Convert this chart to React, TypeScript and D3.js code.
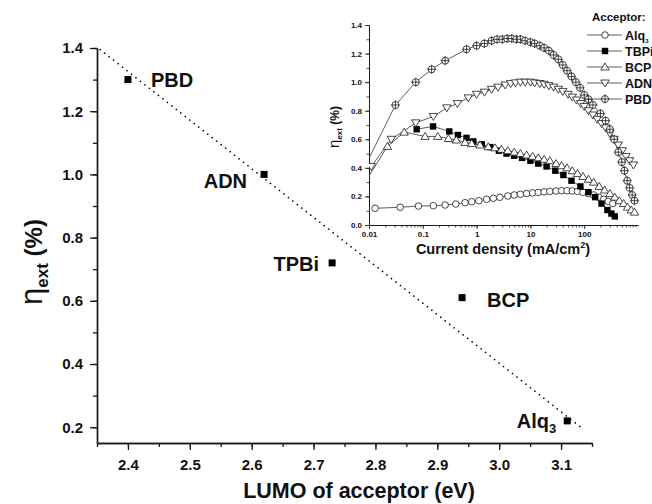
import React, { useEffect, useRef } from "react";
import * as d3 from "d3";

// main plot: external efficiency vs LUMO of the acceptor
const acceptors = ["PBD", "ADN", "TPBi", "BCP", "Alq3"];
const lumo = [2.4, 2.62, 2.73, 2.94, 3.11];
const etaExt = [1.3, 1.0, 0.72, 0.61, 0.22];
const fitLine: [number, number][] = [[2.355, 1.395], [3.135, 0.195]];
const xTickValues = [2.4, 2.5, 2.6, 2.7, 2.8, 2.9, 3.0, 3.1];
const yTickValues = [0.2, 0.4, 0.6, 0.8, 1.0, 1.2, 1.4];

// inset: efficiency vs current density (mA/cm2)
const insetXTicks = [0.01, 0.1, 1, 10, 100];
const insetYTicks = [0, 0.2, 0.4, 0.6, 0.8, 1.0, 1.2, 1.4];

const alq3Curve: [number, number][] = [
  [0.013, 0.117], [0.038, 0.124], [0.083, 0.133], [0.157, 0.135], [0.26, 0.14],
  [0.41, 0.147], [0.61, 0.156], [0.81, 0.163], [1.1, 0.17], [1.54, 0.18],
  [2.05, 0.187], [2.7, 0.194], [3.8, 0.203], [5, 0.21], [6.5, 0.215],
  [8.5, 0.22], [11, 0.225], [14, 0.228], [18, 0.232], [23, 0.235],
  [30, 0.238], [38, 0.24], [48, 0.24], [60, 0.238], [75, 0.235],
  [95, 0.228], [120, 0.22], [150, 0.21], [185, 0.195], [230, 0.18],
  [280, 0.165], [340, 0.15],
];
const tbpiCurve: [number, number][] = [
  [0.077, 0.67], [0.155, 0.69], [0.31, 0.655], [0.45, 0.63], [0.65, 0.61],
  [0.87, 0.585], [1.25, 0.565], [1.8, 0.545], [2.6, 0.52], [3.6, 0.5],
  [5, 0.485], [7, 0.47], [10, 0.45], [14, 0.43], [20, 0.41],
  [29, 0.38], [41, 0.35], [58, 0.31], [85, 0.27], [120, 0.23],
  [160, 0.195], [210, 0.15], [270, 0.105], [320, 0.08], [370, 0.06],
];
const bcpCurve: [number, number][] = [
  [0.0095, 0.33], [0.022, 0.55], [0.045, 0.65], [0.11, 0.62], [0.19, 0.62],
  [0.3, 0.605], [0.42, 0.595], [0.61, 0.578], [0.81, 0.57], [1.16, 0.56],
  [1.65, 0.548], [2.2, 0.54], [2.9, 0.53], [3.8, 0.52], [5, 0.51],
  [6.5, 0.5], [8.5, 0.49], [11, 0.48], [14, 0.47], [18, 0.46],
  [23, 0.45], [30, 0.43], [38, 0.415], [48, 0.4], [60, 0.38],
  [75, 0.36], [95, 0.34], [120, 0.32], [150, 0.3], [190, 0.27],
  [240, 0.245], [300, 0.22], [370, 0.195], [450, 0.17], [540, 0.15],
  [640, 0.125], [750, 0.105], [860, 0.09],
];
const adnCurve: [number, number][] = [
  [0.011, 0.41], [0.026, 0.6], [0.074, 0.715], [0.157, 0.76], [0.28, 0.82],
  [0.44, 0.85], [0.7, 0.89], [1.0, 0.915], [1.4, 0.93], [1.9, 0.95],
  [2.5, 0.965], [3.4, 0.98], [4.3, 0.99], [5.3, 0.995], [6.5, 1.0],
  [8, 1.0], [10, 1.0], [12, 0.995], [15, 0.99], [18, 0.985],
  [22, 0.975], [27, 0.965], [33, 0.95], [40, 0.935], [50, 0.915],
  [60, 0.895], [72, 0.875], [86, 0.85], [100, 0.83], [120, 0.8],
  [145, 0.77], [175, 0.74], [210, 0.71], [250, 0.68], [300, 0.64],
  [360, 0.6], [430, 0.56], [510, 0.52], [600, 0.48], [700, 0.45],
  [820, 0.42],
];
const pbdCurve: [number, number][] = [
  [0.0095, 0.45], [0.031, 0.84], [0.074, 1.0], [0.146, 1.09], [0.26, 1.15],
  [0.65, 1.23], [1.0, 1.255], [1.4, 1.27], [1.9, 1.29], [2.4, 1.3],
  [3.0, 1.3], [3.7, 1.305], [4.5, 1.305], [5.5, 1.3], [6.5, 1.3],
  [8, 1.29], [10, 1.28], [12, 1.27], [15, 1.255], [18, 1.24],
  [22, 1.22], [27, 1.19], [33, 1.16], [40, 1.12], [48, 1.08],
  [58, 1.04], [70, 1.0], [84, 0.96], [100, 0.91], [120, 0.88],
  [145, 0.84], [200, 0.78], [250, 0.73], [300, 0.67], [360, 0.6],
  [430, 0.51], [500, 0.44], [560, 0.38], [630, 0.31], [700, 0.26],
  [780, 0.21], [860, 0.17],
];

const insetSeries = [
  { name: "Alq", sub: "3", pts: alq3Curve, kind: "circle" },
  { name: "TBPi", sub: "", pts: tbpiCurve, kind: "square" },
  { name: "BCP", sub: "", pts: bcpCurve, kind: "up" },
  { name: "ADN", sub: "", pts: adnCurve, kind: "down" },
  { name: "PBD", sub: "", pts: pbdCurve, kind: "cross" },
];

const font = "'Liberation Sans', Arial, Helvetica, sans-serif";
const ink = "#1a1a1a";

// label placement next to each point in the main plot: [dx, dy, anchor]
const labelPos: Record<string, [number, number, string]> = {
  PBD: [23, 7, "start"],
  ADN: [-17, 14, "end"],
  TPBi: [-13, 8, "end"],
  BCP: [25, 9, "start"],
  Alq3: [-11, 7, "end"],
};

function Marker({ kind, x, y }: { kind: string; x: number; y: number }) {
  const sw = 0.8;
  if (kind === "circle")
    return <circle cx={x} cy={y} r={3.3} fill="#fff" stroke={ink} strokeWidth={sw} />;
  if (kind === "square")
    return <rect x={x - 3.2} y={y - 3.2} width={6.4} height={6.4} fill="#000" />;
  if (kind === "up")
    return <path d={`M${x},${y - 4}L${x + 4.2},${y + 3}L${x - 4.2},${y + 3}Z`} fill="#fff" stroke={ink} strokeWidth={sw} />;
  if (kind === "down")
    return <path d={`M${x},${y + 4}L${x + 4.2},${y - 3}L${x - 4.2},${y - 3}Z`} fill="#fff" stroke={ink} strokeWidth={sw} />;
  return (
    <g stroke={ink} strokeWidth={sw}>
      <circle cx={x} cy={y} r={3.5} fill="#fff" />
      <path d={`M${x - 4.5},${y}H${x + 4.5}M${x},${y - 4.5}V${y + 4.5}`} fill="none" />
    </g>
  );
}

export default function App() {
  const ref = useRef<SVGSVGElement>(null);

  const x = d3.scaleLinear().domain([2.35, 3.15]).range([97, 592]);
  const y = d3.scaleLinear().domain([0.15, 1.4]).range([443, 48]);
  const ix = d3.scaleLog().domain([0.01, 1000]).range([369, 638]);
  const iy = d3.scaleLinear().domain([0, 1.4]).range([225, 25]);

  const insetLine = d3
    .line<[number, number]>()
    .x((d) => ix(d[0]))
    .y((d) => iy(d[1]));

  useEffect(() => {
    const svg = d3.select(ref.current);
    const style = (g: any, size: number) => {
      g.select(".domain").attr("stroke", ink).attr("stroke-width", size > 10 ? 1.4 : 0.9);
      g.selectAll(".tick line").attr("stroke", ink).attr("stroke-width", size > 10 ? 1.3 : 0.8);
      g.selectAll(".tick text")
        .attr("fill", "#111")
        .style("font-family", font)
        .style("font-weight", "bold")
        .style("font-size", size + "px");
    };
    const fmt1 = d3.format(".1f");

    // main axes
    svg.select<SVGGElement>(".mx-minor")
      .call(d3.axisBottom(x).tickValues(x.ticks(16)).tickSize(4).tickSizeOuter(0).tickFormat(() => ""))
      .call((g) => style(g, 15));
    svg.select<SVGGElement>(".mx")
      .call(d3.axisBottom(x).tickValues(xTickValues).tickSize(7).tickSizeOuter(0).tickPadding(9).tickFormat((d) => fmt1(d as number)))
      .call((g) => style(g, 15));
    svg.select<SVGGElement>(".my-minor")
      .call(d3.axisLeft(y).tickValues(y.ticks(13)).tickSize(4).tickSizeOuter(0).tickFormat(() => ""))
      .call((g) => style(g, 15));
    svg.select<SVGGElement>(".my")
      .call(d3.axisLeft(y).tickValues(yTickValues).tickSize(7).tickSizeOuter(0).tickPadding(7).tickFormat((d) => fmt1(d as number)))
      .call((g) => style(g, 15));

    // inset axes
    const logMinor = ix.ticks().filter((v) => v < 1000);
    svg.select<SVGGElement>(".ix-minor")
      .call(d3.axisBottom(ix).tickValues(logMinor).tickSize(2.5).tickSizeOuter(0).tickFormat(() => ""))
      .call((g) => style(g, 8));
    svg.select<SVGGElement>(".ix")
      .call(d3.axisBottom(ix).tickValues(insetXTicks).tickSize(4).tickSizeOuter(0).tickPadding(2).tickFormat((d) => String(d)))
      .call((g) => style(g, 8));
    svg.select<SVGGElement>(".iy-minor")
      .call(d3.axisLeft(iy).tickValues(iy.ticks(14)).tickSize(2.5).tickSizeOuter(0).tickFormat(() => ""))
      .call((g) => style(g, 8));
    svg.select<SVGGElement>(".iy")
      .call(d3.axisLeft(iy).tickValues(insetYTicks).tickSize(4).tickSizeOuter(0).tickPadding(3).tickFormat((d) => fmt1(d as number)))
      .call((g) => style(g, 8));
  }, []);

  const legendRowY = [35, 51, 67, 83, 99];

  return (
    <svg
      ref={ref}
      width={652}
      height={504}
      style={{ position: "absolute", left: 0, top: 0, background: "#fff" }}
      fontFamily={font}
    >
      <rect width={652} height={504} fill="#fff" />

      {/* main chart */}
      <g className="mx-minor" transform="translate(0,443)" />
      <g className="mx" transform="translate(0,443)" />
      <g className="my-minor" transform="translate(97,0)" />
      <g className="my" transform="translate(97,0)" />

      <line
        x1={x(fitLine[0][0])}
        y1={y(fitLine[0][1])}
        x2={x(fitLine[1][0])}
        y2={y(fitLine[1][1])}
        stroke="#000"
        strokeWidth={1.6}
        strokeDasharray="0.1 5.6"
        strokeLinecap="round"
      />

      {acceptors.map((name, i) => {
        const px = x(lumo[i]);
        const py = y(etaExt[i]);
        const [dx, dy, anchor] = labelPos[name];
        return (
          <g key={name}>
            <rect x={px - 3.5} y={py - 3.5} width={7} height={7} fill="#000" />
            <text x={px + dx} y={py + dy} textAnchor={anchor as any} fontSize={20} fontWeight="bold" fill="#111">
              {name === "Alq3" ? (
                <>
                  Alq<tspan fontSize={13} dy={5}>3</tspan>
                </>
              ) : (
                name
              )}
            </text>
          </g>
        );
      })}

      <text x={359} y={498} textAnchor="middle" fontSize={21.5} fontWeight="bold" fill="#111">
        LUMO of acceptor (eV)
      </text>
      <text transform="translate(42,262) rotate(-90)" textAnchor="middle" fill="#111">
        <tspan fontSize={31}>η</tspan>
        <tspan fontSize={17} fontWeight="bold" dy={6}>ext</tspan>
        <tspan fontSize={24} fontWeight="bold" dy={-6}> (%)</tspan>
      </text>

      {/* inset */}
      <defs>
        <clipPath id="inset-clip">
          <rect x={369} y={15} width={276} height={212} />
        </clipPath>
      </defs>
      <g className="ix-minor" transform="translate(0,225)" />
      <g className="ix" transform="translate(0,225)" />
      <g className="iy-minor" transform="translate(369,0)" />
      <g className="iy" transform="translate(369,0)" />

      <g clipPath="url(#inset-clip)">
        {insetSeries.map((s) => (
          <path key={s.name + "-l"} d={insetLine(s.pts) || ""} fill="none" stroke="#333" strokeWidth={0.8} />
        ))}
        {insetSeries.map((s) => (
          <g key={s.name + "-m"}>
            {s.pts
              .filter((p) => p[0] >= 0.01)
              .map((p, j) => (
                <Marker key={j} kind={s.kind} x={ix(p[0])} y={iy(p[1])} />
              ))}
          </g>
        ))}
      </g>

      <text x={503} y={254} textAnchor="middle" fontSize={14.5} fontWeight="bold" fill="#111">
        Current density (mA/cm<tspan fontSize={9} dy={-6}>2</tspan>
        <tspan dy={6}>)</tspan>
      </text>
      <text transform="translate(339,127) rotate(-90)" textAnchor="middle" fill="#111">
        <tspan fontSize={15}>η</tspan>
        <tspan fontSize={8} fontWeight="bold" dy={3}>ext</tspan>
        <tspan fontSize={12} fontWeight="bold" dy={-3}> (%)</tspan>
      </text>

      {/* legend */}
      <text x={592} y={21} fontSize={11.5} fontWeight="bold" fill="#111">
        Acceptor:
      </text>
      {insetSeries.map((s, i) => (
        <g key={s.name + "-leg"}>
          <line x1={587} x2={622} y1={legendRowY[i]} y2={legendRowY[i]} stroke="#333" strokeWidth={0.8} />
          <Marker kind={s.kind} x={605} y={legendRowY[i]} />
          <text x={625} y={legendRowY[i] + 4.5} fontSize={12.5} fontWeight="bold" fill="#111">
            {s.name}
            {s.sub && (
              <tspan fontSize={6} dy={3}>
                {s.sub}
              </tspan>
            )}
          </text>
        </g>
      ))}
    </svg>
  );
}
